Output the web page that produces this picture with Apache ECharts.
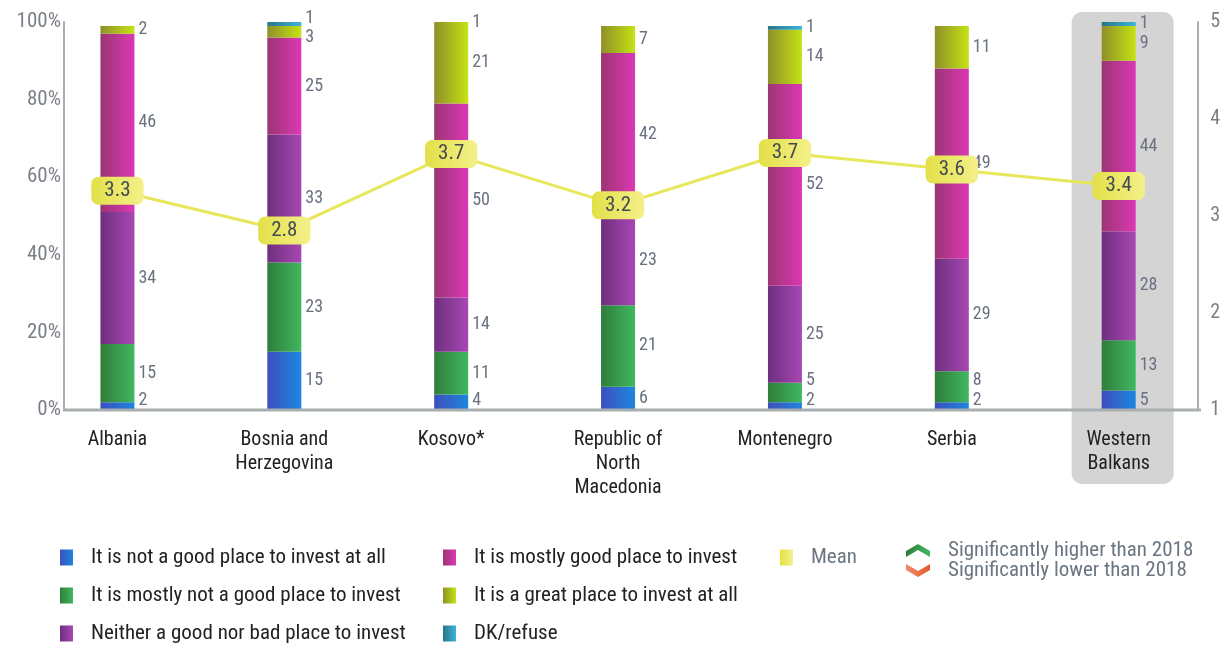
<!DOCTYPE html>
<html><head><meta charset="utf-8">
<script src="https://cdn.jsdelivr.net/npm/echarts@6/dist/echarts.min.js"></script>
<style>html,body{margin:0;padding:0;background:#fff}#c{width:1223px;height:646px}</style>
</head><body><div id="c"></div>
<script>
// ---------- DATA ----------
const categories = ['Albania', 'Bosnia and\nHerzegovina', 'Kosovo*', 'Republic of\nNorth\nMacedonia', 'Montenegro', 'Serbia', 'Western\nBalkans'];
const seriesNames = ['It is not a good place to invest at all', 'It is mostly not a good place to invest', 'Neither a good nor bad place to invest', 'It is mostly good place to invest', 'It is a great place to invest at all', 'DK/refuse'];
const notGoodAtAll   = [2, 15, 4, 6, 2, 2, 5];
const mostlyNotGood  = [15, 23, 11, 21, 5, 8, 13];
const neitherGoodBad = [34, 33, 14, 23, 25, 29, 28];
const mostlyGood     = [46, 25, 50, 42, 52, 49, 44];
const greatPlace     = [2, 3, 21, 7, 14, 11, 9];
const dkRefuse       = [0, 1, 1, 0, 1, 0, 1];
const meanValues     = [3.26, 2.85, 3.64, 3.11, 3.65, 3.48, 3.31];
const meanLabels     = ['3.3', '2.8', '3.7', '3.2', '3.7', '3.6', '3.4'];
const leftTicks  = {min: 0, max: 100, interval: 20};
const rightTicks = {min: 1, max: 5, interval: 1};
const legendExtra = ['Mean', 'Significantly higher than 2018', 'Significantly lower than 2018'];

// ---------- STYLE ----------
const FONT = "'Roboto Condensed','Liberation Sans Narrow','DejaVu Sans Condensed','Arial Narrow',Roboto,sans-serif";
const W = 1223, H = 646;
const gridLeft = 34, gridRight = 19, gridTop = 22, gridBottom = 236;
const leftAxisOffset = -30, rightAxisOffset = -4;
const pxPerPct = (H - gridTop - gridBottom) / 100;
const axisGray = '#a9aeb1';
const lg = (a, b) => new echarts.graphic.LinearGradient(0, 0, 1, 0, [{offset: 0, color: a}, {offset: 1, color: b}]);
const barColors = [
  lg('#3d4fbc', '#1d86e0'),
  lg('#2e7d3a', '#40b860'),
  lg('#6e2f7e', '#a748b3'),
  lg('#9c3572', '#db38b5'),
  lg('#8f8f28', '#c4e314'),
  lg('#2a7585', '#3ab4dc')
];
const allSeries = [notGoodAtAll, mostlyNotGood, neitherGoodBad, mostlyGood, greatPlace, dkRefuse];

// label de-overlap per column (in % units)
const labelShift = allSeries.map(() => []);
categories.forEach((c, i) => {
  let cum = 0; const items = [];
  allSeries.forEach((arr, s) => {
    const v = arr[i];
    if (v > 0) items.push({s, nat: cum + v / 2, c: cum + v / 2});
    cum += v;
  });
  const gap = 5, minC = 2.5;
  for (let it = 0; it < 20; it++) {
    for (let k = 0; k + 1 < items.length; k++) {
      const d = items[k + 1].c - items[k].c;
      if (d < gap) { const m = (gap - d) / 2; items[k].c -= m; items[k + 1].c += m; }
    }
    if (items.length && items[0].c < minC) items[0].c = minC;
  }
  items.forEach(o => { labelShift[o.s][i] = -(o.c - o.nat) * pxPerPct; });
});

const chart = echarts.init(document.getElementById('c'), null, {renderer: 'canvas'});

const barSeries = allSeries.map((arr, s) => ({
  name: seriesNames[s],
  type: 'bar',
  stack: 'total',
  barWidth: 34,
  xAxisIndex: 0, yAxisIndex: 0,
  itemStyle: {color: barColors[s]},
  label: {
    show: true, position: 'right', distance: 4,
    color: '#6a7280', fontSize: 18, fontFamily: FONT,
    formatter: p => (p.value > 0 ? String(p.value) : '')
  },
  data: arr.map((v, i) => ({value: v, label: {offset: [0, labelShift[s][i] || 0]}})),
  z: 3
}));

const meanSeries = {
  name: 'Mean',
  type: 'line',
  yAxisIndex: 1,
  data: meanValues,
  symbol: 'circle', symbolSize: 1,
  lineStyle: {color: '#e8e65a', width: 3},
  itemStyle: {color: '#e8e65a'},
  label: {
    show: true, position: 'inside',
    formatter: p => meanLabels[p.dataIndex],
    fontSize: 21, fontFamily: FONT, fontWeight: 'normal', color: '#454a52',
    lineHeight: 21,
    backgroundColor: lg('#e2e048', '#f4f08a'),
    padding: [4, 13, 3, 13], borderRadius: 7
  },
  z: 10
};

const legendText = (color) => ({color, fontSize: 21, fontFamily: FONT, lineHeight: 16, padding: [0, 0, 0, 13]});
const legendBase = {
  orient: 'vertical', top: 547, height: 140,
  icon: 'rect', itemWidth: 13, itemHeight: 16, itemGap: 17, padding: 0,
  selectedMode: false
};

chart.setOption({
  animation: false,
  grid: {left: gridLeft, right: gridRight, top: gridTop, bottom: gridBottom},
  xAxis: {
    type: 'category', data: categories, z: 5,
    axisLine: {show: false}, axisTick: {show: false},
    axisLabel: {color: '#222', fontSize: 20, fontFamily: FONT, lineHeight: 24, margin: 18, interval: 0}
  },
  yAxis: [
    {
      type: 'value', min: leftTicks.min, max: leftTicks.max, interval: leftTicks.interval,
      offset: leftAxisOffset,
      axisLine: {show: true, lineStyle: {color: axisGray, width: 2}},
      axisTick: {show: false}, splitLine: {show: false},
      axisLabel: {formatter: '{value}%', color: '#7b8088', fontSize: 21, fontFamily: FONT, margin: 3}
    },
    {
      type: 'value', position: 'right', min: rightTicks.min, max: rightTicks.max, interval: rightTicks.interval,
      offset: rightAxisOffset,
      axisLine: {show: true, lineStyle: {color: axisGray, width: 2}},
      axisTick: {show: false}, splitLine: {show: false},
      axisLabel: {color: '#7b8088', fontSize: 20, fontFamily: FONT, margin: 12}
    }
  ],
  legend: [
    Object.assign({}, legendBase, {data: seriesNames.slice(0, 3), left: 60, textStyle: legendText('#222')}),
    Object.assign({}, legendBase, {data: seriesNames.slice(3, 6), left: 443, textStyle: legendText('#222')}),
    Object.assign({}, legendBase, {
      data: [{name: 'Mean', icon: 'rect', itemStyle: {color: lg('#e2e240', '#f4f090')}}],
      left: 780, textStyle: legendText('#6b7682')
    })
  ],
  series: [...barSeries, meanSeries]
});

// decorations computed from the axes
const wbX = chart.convertToPixel({xAxisIndex: 0}, categories.length - 1);
const y0 = chart.convertToPixel({yAxisIndex: 0}, 0);
const leftX = gridLeft - leftAxisOffset;
const rightX = W - gridRight + rightAxisOffset;
chart.setOption({
  graphic: [
    {type: 'rect', z: 0, silent: true,
     shape: {x: wbX - 47, y: 12, width: 102, height: 472, r: 10},
     style: {fill: '#d4d4d4'}},
    {type: 'line', z: 50, silent: true,
     shape: {x1: leftX - 1, y1: y0, x2: rightX + 1, y2: y0},
     style: {stroke: axisGray, lineWidth: 3}},
    {type: 'polygon', z: 50, silent: true,
     shape: {points: [[906, 551], [918, 544], [930, 551], [930, 557], [918, 550], [906, 557]]},
     style: {fill: lg('#2e7d3a', '#40b860')}},
    {type: 'polygon', z: 50, silent: true,
     shape: {points: [[906, 564], [918, 571], [930, 564], [930, 570], [918, 577], [906, 570]]},
     style: {fill: lg('#ee8a70', '#e85a2a')}},
    {type: 'text', z: 50, silent: true, left: 948, top: 540,
     style: {text: legendExtra[1], fill: '#6b7682', fontSize: 21, fontFamily: FONT}},
    {type: 'text', z: 50, silent: true, left: 948, top: 560,
     style: {text: legendExtra[2], fill: '#6b7682', fontSize: 21, fontFamily: FONT}}
  ]
});
</script></body></html>
